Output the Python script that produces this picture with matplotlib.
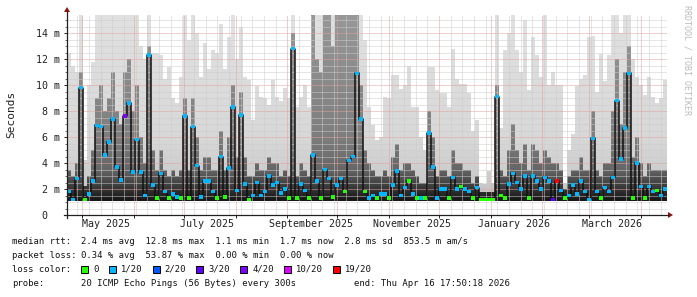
import matplotlib
matplotlib.use("Agg")
import matplotlib.pyplot as plt
import matplotlib.dates as mdates
from matplotlib.colors import LinearSegmentedColormap
from matplotlib.patches import Rectangle, Polygon
from matplotlib.lines import Line2D
import numpy as np
import pandas as pd

# ---- data (one value per ~2.4 day bucket, ms) ----
start = pd.Timestamp("2025-04-21 17:50:18")
end = pd.Timestamp("2026-04-16 17:50:18")

med = [1.8, 1.2, 2.8, 9.8, 1.2, 1.6, 2.6, 6.9, 6.8, 4.6,
       5.6, 7.4, 3.7, 2.7, 7.6, 8.6, 3.3, 5.8, 3.3, 1.5,
       12.3, 2.3, 1.3, 3.2, 1.8,
       1.3, 1.6, 1.4, 1.3, 7.6, 1.3, 6.8, 3.8, 1.4, 2.6,
       2.6, 1.8, 1.3, 4.5, 1.4, 3.6, 8.3, 1.9, 7.7, 2.4,
       1.2, 1.5, 2.5, 1.5, 1.8, 3.0,
       2.3, 2.5, 1.7, 2.0, 1.3, 12.8, 1.3, 2.4, 1.9, 1.3,
       4.6, 2.6, 1.3, 3.5, 2.8, 1.4, 2.3, 2.8, 1.8, 4.2,
       4.5, 10.9, 7.4, 1.8, 1.3,
       1.5, 1.3, 1.6, 1.6, 1.3, 2.3, 3.4, 1.5, 2.1, 2.6,
       1.6, 1.3, 1.3, 1.3, 6.3, 3.7, 1.3, 2.0, 2.0, 1.3,
       2.9, 2.0, 2.2, 2.0, 1.8, 1.3,
       2.1, 1.2, 1.2, 1.2, 1.2, 9.1, 1.5, 1.3, 2.4, 3.2,
       2.5, 2.0, 3.0, 1.3, 3.0, 2.6, 2.0, 2.9, 2.6, 1.2,
       2.6, 1.9, 1.3, 1.5, 2.3,
       1.6, 2.6, 1.8, 1.2, 5.9, 1.8, 1.3, 2.1, 1.8, 2.9,
       8.8, 4.3, 6.7, 10.9, 1.3, 4.0, 2.2, 1.3, 2.2, 1.8,
       1.9, 1.5, 2.0]

# upper edge of the dense (dark) smoke
dark = [3.5, 3.0, 4.0, 11, 2.2, 3.0, 5, 9, 10, 8,
        9, 11, 8, 7, 11, 12, 8, 10, 6, 4,
        13, 5, 3.5, 5, 3.5,
        3, 3.5, 3, 3.5, 9, 3.5, 9, 6, 3.5, 4.5,
        4.5, 3.5, 3.5, 6.5, 3.5, 6, 10, 4.5, 9.5, 4.5,
        3, 3, 4, 3.5, 3.5, 4.5,
        4, 4, 3, 3.5, 3, 14, 3, 4, 3.5, 3,
        15.4, 12, 11, 15.4, 15.4, 13, 15.4, 15.4, 15.4, 15.4,
        15.4, 15.4, 10, 5, 4,
        3.5, 3, 3, 3.5, 3, 4.5, 5.5, 3.5, 4, 4,
        3.5, 3, 2.5, 2.5, 8, 6, 3, 3.5, 3.5, 3,
        5, 4, 4, 3.5, 3.5, 2.5,
        3, 1.8, 1.8, 1.8, 1.8, 10, 3.5, 3, 5, 7,
        5, 4, 5.5, 3.5, 5.5, 5, 4, 5, 4.5, 4,
        4, 3.5, 2, 3, 3.5,
        3.5, 4.5, 3.5, 3.5, 8, 3.5, 3, 4, 4, 8,
        12, 7, 11, 13, 4.5, 6, 4, 3, 4, 3.5,
        3.5, 3.5, 3.5]

# upper edge of the faint smoke (max ping)
top = [12.5, 11.5, 11.0, 15.4, 4.2, 10, 11.8, 15.4, 15.4, 15.4,
       15.4, 15.4, 15.4, 15.4, 15.4, 15.4, 15.4, 15.4, 13, 12,
       15.4, 12.5, 12.5, 12.3, 10.5,
       11.4, 9, 8.6, 10.6, 15.4, 13.5, 15.4, 14, 10.6, 13.2,
       11.2, 12.7, 12.5, 14.7, 11.2, 13.7, 15.4, 12, 14.5, 10.6,
       10.4, 7.3, 9.9, 9.1, 9.0, 8.5,
       10.4, 9.1, 8.8, 9.8, 9.0, 15.4, 8.3, 9.1, 10.0, 8.3,
       15.4, 15.4, 15.4, 15.4, 15.4, 15.4, 15.4, 15.4, 15.4, 15.4,
       15.4, 15.4, 15.4, 13.5, 8.3,
       6.9, 5.8, 6.0, 9.1, 9.0, 10.8, 10.8, 9.7, 10.0, 11.5,
       8.3, 8.3, 6.0, 5.0, 11.4, 11.4, 9.6, 9.4, 9.4, 8.3,
       12.8, 10.5, 10.1, 10.1, 9.4, 6.5,
       7.3, 2.5, 2.4, 3.4, 2.5, 15.4, 6.7, 12.7, 14.0, 15.4,
       12.7, 11, 15.0, 9.6, 13.7, 12.3, 10.6, 15.4, 10.0, 11,
       10, 10, 2.5, 5, 6.2,
       9.9, 10.5, 10.8, 13.7, 13.8, 9.5, 12.4, 10.3, 12.3, 15.4,
       15.4, 14, 15.4, 15.4, 12, 10.6, 10.0, 9.2, 10.6, 9.1,
       8.6, 9.0, 10.4]

# lost pings out of 20
loss = [1, 1, 1, 1, 0, 1, 1, 1, 1, 1,
        1, 1, 1, 1, 4, 1, 1, 1, 1, 1,
        1, 1, 0, 1, 1,
        0, 1, 1, 0, 1, 0, 1, 1, 1, 1,
        1, 1, 0, 1, 0, 1, 1, 1, 1, 1,
        0, 1, 1, 1, 1, 1,
        1, 1, 1, 1, 0, 1, 0, 1, 1, 0,
        1, 1, 0, 1, 1, 0, 1, 1, 0, 1,
        1, 1, 1, 0, 1,
        1, 0, 1, 1, 0, 1, 1, 1, 1, 0,
        1, 0, 1, 0, 1, 1, 1, 1, 1, 0,
        1, 1, 0, 1, 1, 0,
        1, 0, 0, 0, 0, 1, 0, 0, 1, 1,
        1, 1, 1, 0, 1, 1, 1, 1, 1, 3,
        19, 1, 0, 1, 1,
        1, 1, 1, 1, 1, 1, 0, 1, 1, 1,
        1, 1, 1, 1, 0, 1, 1, 0, 1, 1,
        0, 1, 1]

smoke_floor = 1.05

loss_levels = [0, 1, 2, 3, 4, 10, 19]
loss_labels = ["0", "1/20", "2/20", "3/20", "4/20", "10/20", "19/20"]
loss_colors = ["#26ff00", "#00b8ff", "#0059ff", "#5e00ff", "#7e00ff", "#dd00ff", "#ff0000"]

legend_rows = [
    ("median rtt:", "2.4 ms avg  12.8 ms max  1.1 ms min  1.7 ms now  2.8 ms sd  853.5 m am/s"),
    ("packet loss:", "0.34 % avg  53.87 % max  0.00 % min  0.00 % now"),
    ("loss color:", None),
    ("probe:", "20 ICMP Echo Pings (56 Bytes) every 300s"),
]
end_text = "end: Thu Apr 16 17:50:18 2026"

# ---- figure ----
W, H = 697, 297
fig = plt.figure(figsize=(W / 100, H / 100), dpi=100)
fig.patch.set_facecolor("white")


def fx(x):
    return x / W


def fy(y):
    return 1 - y / H


ymax = 200 / 13.0
ax = fig.add_axes([fx(67), fy(215), 600 / W, 200 / H])
ax.set_facecolor("white")
for s in ax.spines.values():
    s.set_visible(False)

edges = pd.date_range(start, end, periods=len(med) + 1)
xe = mdates.date2num(edges)
xc = (xe[:-1] + xe[1:]) / 2
med_a = np.array(med)
dark_a = np.array(dark)
top_a = np.array(top)
ext = lambda a: np.append(a, a[-1])
grad = np.linspace(0, 1, 256).reshape(-1, 1)

# faint smoke
light = ax.fill_between(xe, smoke_floor, ext(top_a), step="post", facecolor="none", lw=0)
cm_light = LinearSegmentedColormap.from_list(
    "l", [(0, "#b4b4b4"), (2.5 / ymax, "#cacaca"), (6 / ymax, "#d8d8d8"), (1, "#e1e1e1")])
im1 = ax.imshow(grad, extent=[xe[0], xe[-1], 0, ymax], origin="lower", aspect="auto",
                cmap=cm_light, zorder=1, interpolation="bilinear")
im1.set_clip_path(light.get_paths()[0], ax.transData)

# dense smoke
dpoly = ax.fill_between(xe, smoke_floor, ext(dark_a), step="post", facecolor="none", lw=0)
cm_dark = LinearSegmentedColormap.from_list(
    "d", [(0, "#101010"), (1.1 / ymax, "#161616"), (2.0 / ymax, "#363636"),
          (3.5 / ymax, "#666666"), (6 / ymax, "#7e7e7e"), (1, "#989898")])
im2 = ax.imshow(grad, extent=[xe[0], xe[-1], 0, ymax], origin="lower", aspect="auto",
                cmap=cm_dark, zorder=2, interpolation="bilinear")
im2.set_clip_path(dpoly.get_paths()[0], ax.transData)

# grid
grid_kw = dict(lw=0.72, ls=(0, (1, 1)), zorder=3)
for v in np.arange(0.5, ymax, 0.5):
    major = abs(v / 2 - round(v / 2)) < 1e-6
    ax.axhline(v, color="#e4a0a0" if major else "#cccccc", **grid_kw)
weeks = pd.date_range(start.normalize(), end, freq="W-MON")
months = pd.date_range(start.normalize(), end, freq="MS")
for d in weeks:
    if d not in months:
        ax.axvline(mdates.date2num(d), color="#cccccc", **grid_kw)
for d in months:
    ax.axvline(mdates.date2num(d), color="#e4a0a0", **grid_kw)

# median
ax.step(xe, ext(med_a), where="post", color="#111111", lw=1.1, zorder=4)
dot_colors = []
for l in loss:
    c = loss_colors[0]
    for lv, lc in zip(loss_levels, loss_colors):
        if l >= lv:
            c = lc
    dot_colors.append(c)
ax.scatter(xc, med_a, marker="s", s=6, c=dot_colors, linewidths=0, zorder=5)

ax.set_xlim(xe[0], xe[-1])
ax.set_ylim(0, ymax)

mono = "DejaVu Sans Mono"
yt = list(range(0, 15, 2))
ax.set_yticks(yt, labels=["0  " if v == 0 else "%d m" % v for v in yt],
              fontfamily=mono, fontsize=7.2)
ax.set_yticks(np.arange(0, ymax, 0.5), minor=True)
ax.tick_params(axis="y", which="major", length=2.2, width=0.7, pad=2.8, colors="#222222")
ax.tick_params(axis="y", which="minor", length=1.2, width=0.6, colors="#555555")
ax.set_xticks(mdates.date2num(months), labels=[""] * len(months))
lab_dates = pd.to_datetime(["2025-05-15", "2025-07-15", "2025-09-15",
                            "2025-11-15", "2026-01-15", "2026-03-15"])
ax.set_xticks(mdates.date2num(lab_dates), minor=True,
              labels=[d.strftime("%B %Y") for d in lab_dates], fontfamily=mono, fontsize=7.2)
ax.tick_params(axis="x", which="major", length=2.2, width=0.7, colors="#222222")
ax.tick_params(axis="x", which="minor", length=0, pad=3, labelcolor="#222222")

# axes lines and arrows
ax_col = "#202020"
arrow_col = "#8b1010"
fig.add_artist(Line2D([fx(64), fx(668)], [fy(215), fy(215)], color=ax_col, lw=0.9))
fig.add_artist(Line2D([fx(67), fx(67)], [fy(218), fy(12)], color=ax_col, lw=0.9))
fig.add_artist(Polygon([(fx(668), fy(212)), (fx(668), fy(218)), (fx(673), fy(215))],
                       closed=True, color=arrow_col, lw=0))
fig.add_artist(Polygon([(fx(64), fy(12)), (fx(70), fy(12)), (fx(67), fy(7))],
                       closed=True, color=arrow_col, lw=0))

fig.text(fx(11), fy(114), "Seconds", rotation=90, ha="center", va="center",
         fontfamily=mono, fontsize=8, color="#222222")
fig.text(fx(687), fy(60), "RRDTOOL / TOBI OETIKER", rotation=270, ha="center", va="center",
         fontfamily=mono, fontsize=6, color="#bbbbbb")

# legend block
row_y = [241, 255.5, 269.5, 283.5]
fs = 6.4
cw = 5.33
for (lab, val), y in zip(legend_rows, row_y):
    fig.text(fx(12), fy(y), lab, ha="left", va="center", fontfamily=mono, fontsize=fs, color="#111111")
    if val is not None:
        fig.text(fx(81), fy(y), val, ha="left", va="center", fontfamily=mono, fontsize=fs, color="#111111")
fig.text(fx(510), fy(row_y[3]), end_text, ha="right", va="center", fontfamily=mono, fontsize=fs,
         color="#111111")

x = 81
for lab, col in zip(loss_labels, loss_colors):
    fig.add_artist(Rectangle((fx(x), fy(row_y[2] + 3.5)), 7 / W, 7 / H, facecolor=col,
                             edgecolor="#000000", lw=0.7))
    fig.text(fx(x + 12), fy(row_y[2]), lab, ha="left", va="center", fontfamily=mono, fontsize=fs,
             color="#111111")
    x += 12 + len(lab) * cw + 10.5

fig.savefig("out.png", dpi=100)
